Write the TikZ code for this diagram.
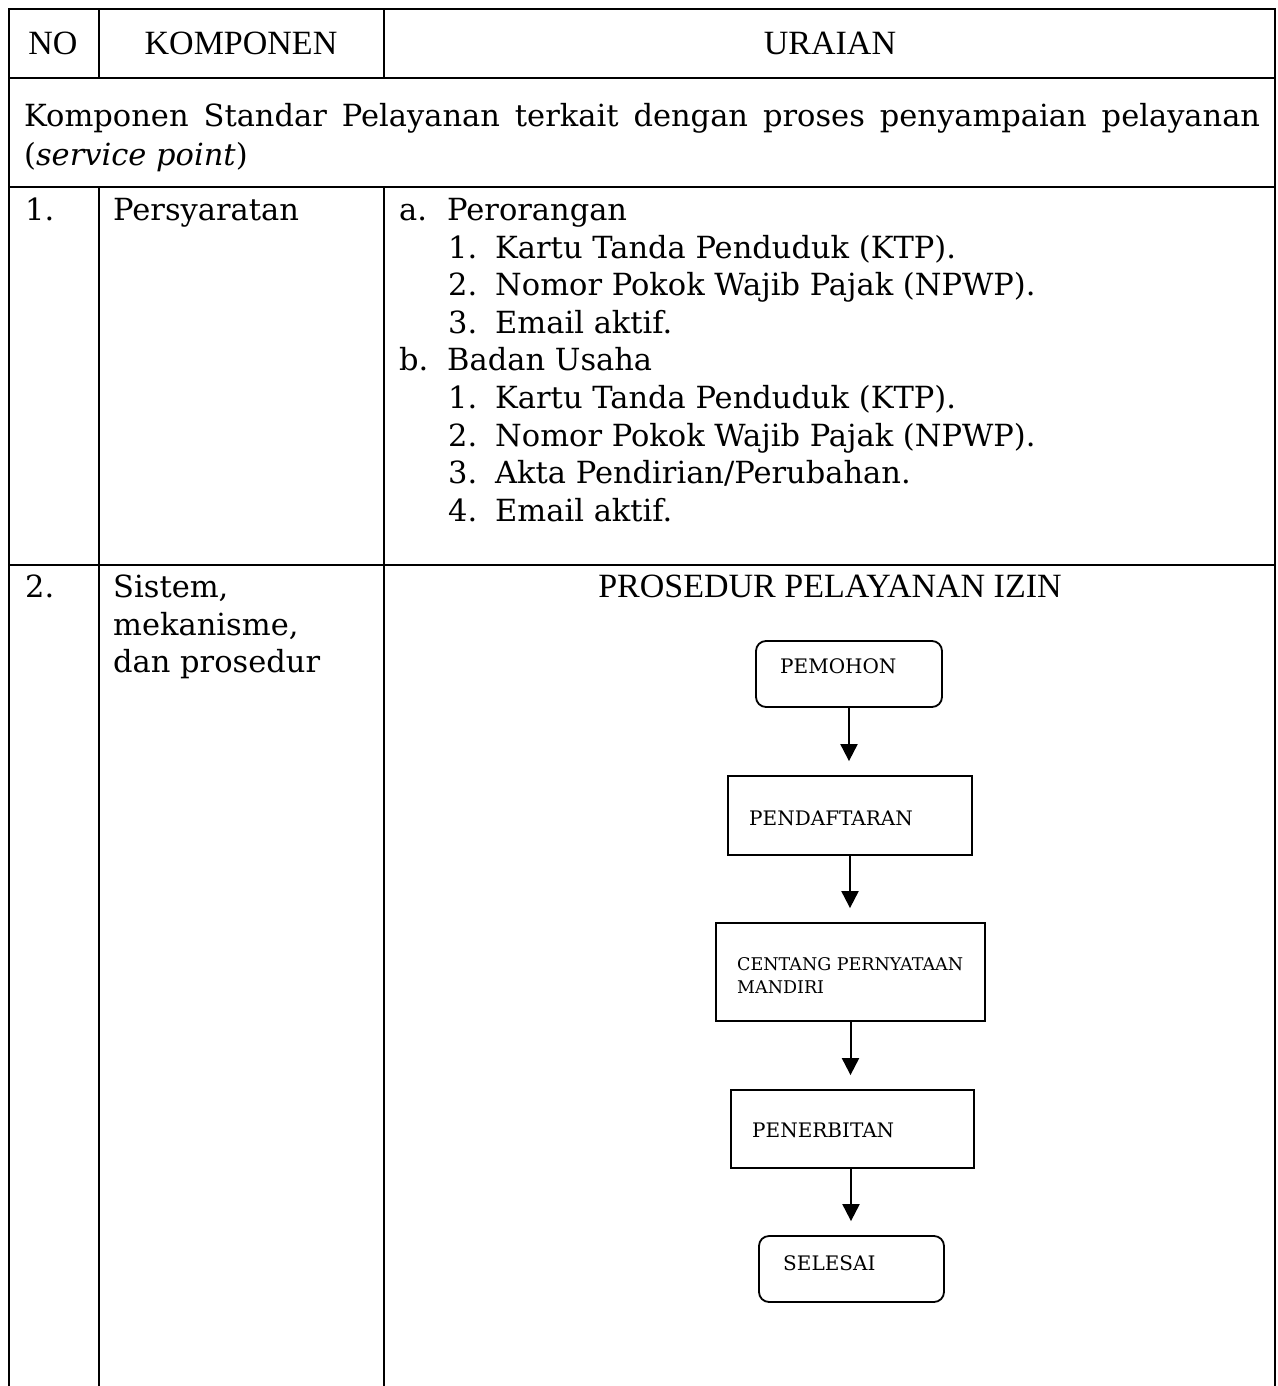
\documentclass[tikz,border=0pt]{standalone}
\usepackage{fontspec}
\setmainfont{DejaVu Serif}
\newfontfamily\headfont{Liberation Serif}
\usetikzlibrary{arrows.meta}
\begin{document}
\begin{tikzpicture}[x=1pt,y=-1pt,
  grid/.style={line width=2pt, line cap=rect},
  body/.style={anchor=base west, inner sep=0pt, font=\fontsize{30.5}{37.6}\selectfont},
  head/.style={anchor=base, inner sep=0pt, font=\headfont\fontsize{34}{40}\selectfont},
  flowtext/.style={anchor=base west, inner sep=0pt, align=left, font=\fontsize{20}{23}\selectfont},
  procbox/.style={draw, line width=1.8pt, inner sep=0pt},
  termbox/.style={procbox, rounded corners=10pt},
  flowarrow/.style={line width=2pt, -{Triangle[width=17pt,length=17pt]}, shorten >=14pt}
]
\useasboundingbox (0,0) rectangle (1277,1386);

% table grid
\draw[grid] (9,9) -- (1275,9);
\draw[grid] (9,78) -- (1275,78);
\draw[grid] (9,187) -- (1275,187);
\draw[grid] (9,565) -- (1275,565);
\draw[grid] (9,9) -- (9,1386);
\draw[grid] (1275,9) -- (1275,1386);
\draw[grid] (99,9) -- (99,78);
\draw[grid] (384,9) -- (384,78);
\draw[grid] (99,187) -- (99,1386);
\draw[grid] (384,187) -- (384,1386);

% header
\node[head] (hno) at (53,55) {NO};
\node[head] (hkomp) at (241,55) {KOMPONEN};
\node[head] (hurai) at (830,55) {URAIAN};

% section row
\node[body] (sec1) at (24,127) {\makebox[1236pt][s]{Komponen Standar Pelayanan terkait dengan proses penyampaian pelayanan}};
\node[body] (sec2) at (24,165) {(\textit{service point})};

% row 1
\node[body] (n1) at (25,220) {1.};
\node[body] (k1) at (113,220) {Persyaratan};
\node[body] (la) at (399,220) {a.};
\node[body] (lat) at (447,220) {Perorangan};
\node[body] (la1) at (448,258) {1.};
\node[body] (la1t) at (495,258) {Kartu Tanda Penduduk (KTP).};
\node[body] (la2) at (448,295) {2.};
\node[body] (la2t) at (495,295) {Nomor Pokok Wajib Pajak (NPWP).};
\node[body] (la3) at (448,333) {3.};
\node[body] (la3t) at (495,333) {Email aktif.};
\node[body] (lb) at (399,370) {b.};
\node[body] (lbt) at (447,370) {Badan Usaha};
\node[body] (lb1) at (448,408) {1.};
\node[body] (lb1t) at (495,408) {Kartu Tanda Penduduk (KTP).};
\node[body] (lb2) at (448,446) {2.};
\node[body] (lb2t) at (495,446) {Nomor Pokok Wajib Pajak (NPWP).};
\node[body] (lb3) at (448,483) {3.};
\node[body] (lb3t) at (495,483) {Akta Pendirian/Perubahan.};
\node[body] (lb4) at (448,521) {4.};
\node[body] (lb4t) at (495,521) {Email aktif.};

% row 2
\node[body] (n2) at (25,597) {2.};
\node[body] (k2a) at (113,597) {Sistem,};
\node[body] (k2b) at (113,635) {mekanisme,};
\node[body] (k2c) at (113,672) {dan prosedur};
\node[head] (ptitle) at (830,597) {PROSEDUR PELAYANAN IZIN};

% flowchart boxes
\node[termbox, minimum width=186pt, minimum height=66pt] (pemohon) at (849,674) {};
\node[procbox, minimum width=244pt, minimum height=79pt] (daftar) at (850,815.5) {};
\node[procbox, minimum width=269pt, minimum height=98pt] (centang) at (850.5,972) {};
\node[procbox, minimum width=243pt, minimum height=78pt] (terbit) at (852.5,1129) {};
\node[termbox, minimum width=185pt, minimum height=66pt] (selesai) at (851.5,1269) {};

% flowchart labels (base of a two-line label sits on its last line)
\node[flowtext] (tpemohon) at (780,673.5) {PEMOHON};
\node[flowtext] (tdaftar) at (749,825) {PENDAFTARAN};
\node[flowtext, font=\fontsize{17.5}{23}\selectfont] (tcentang) at (737,993) {CENTANG PERNYATAAN\\MANDIRI};
\node[flowtext] (tterbit) at (752,1137) {PENERBITAN};
\node[flowtext] (tselesai) at (783,1270) {SELESAI};

% connectors
\draw[flowarrow] (pemohon.south) -- (pemohon.south |- daftar.north);
\draw[flowarrow] (daftar.south) -- (daftar.south |- centang.north);
\draw[flowarrow] (centang.south) -- (centang.south |- terbit.north);
\draw[flowarrow] ([xshift=-1.5pt]terbit.south) -- ([xshift=-1.5pt]terbit.south |- selesai.north);
\end{tikzpicture}
\end{document}
